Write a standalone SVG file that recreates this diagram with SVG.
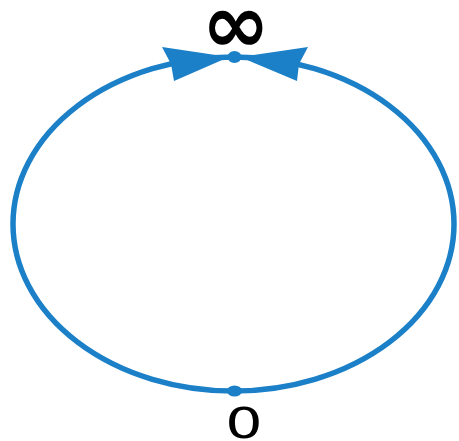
<svg xmlns="http://www.w3.org/2000/svg" width="459" height="441" viewBox="0 0 459 441">
<style>
.curve{fill:none;stroke:#1b80c8;stroke-width:5.5}
.blue{fill:#1b80c8;stroke:none}
.lbl{font-family:"DejaVu Sans",sans-serif;fill:#000;text-anchor:middle}
</style>
<rect width="459" height="441" fill="#fff"/>
<g id="connectors">
<ellipse class="curve" cx="233.5" cy="224" rx="220.5" ry="167"/>
<path class="blue" d="M229,57 L162,47 L171,64 L174,81 Z"/>
<path class="blue" d="M240,57 L308,47 L299,64 L297,81 Z"/>
</g>
<g id="node-inf">
<ellipse class="blue" cx="234.5" cy="57" rx="7" ry="6"/>
<text class="lbl" x="236" y="52" font-size="82" font-weight="bold">∞</text>
</g>
<g id="node-zero">
<ellipse class="blue" cx="234.5" cy="391" rx="7.5" ry="5.5"/>
<text class="lbl" transform="translate(244,438) scale(1.4,1)" x="0" y="0" font-size="42">0</text>
</g>
</svg>
